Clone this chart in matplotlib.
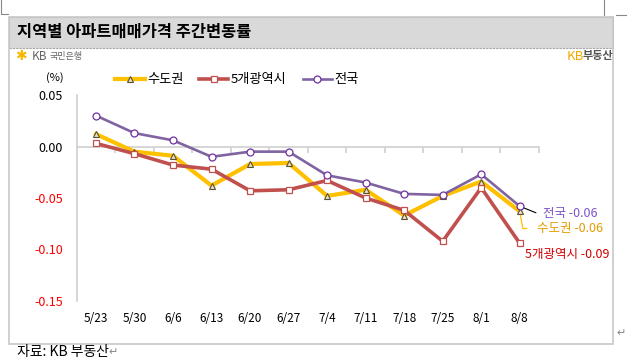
import matplotlib.pyplot as plt
import matplotlib.transforms as mtransforms
from matplotlib.patches import Rectangle
from matplotlib.lines import Line2D

plt.rcParams['font.family'] = ['Noto Sans CJK KR', 'DejaVu Sans']

# 데이터
weeks = ['5/23', '5/30', '6/6', '6/13', '6/20', '6/27', '7/4', '7/11', '7/18', '7/25', '8/1', '8/8']
sudo = [0.012, -0.005, -0.009, -0.038, -0.017, -0.016, -0.048, -0.042, -0.067, -0.048, -0.034, -0.063]
metro5 = [0.003, -0.007, -0.018, -0.022, -0.043, -0.042, -0.033, -0.050, -0.062, -0.092, -0.040, -0.094]
nation = [0.030, 0.013, 0.006, -0.010, -0.005, -0.005, -0.028, -0.035, -0.046, -0.047, -0.027, -0.058]
yticks = [0.05, 0.00, -0.05, -0.10, -0.15]

W, H = 627, 364
fig = plt.figure(figsize=(W / 100, H / 100), dpi=100)

def fx(px):
    return px / W

def fy(py):
    return 1 - py / H

# 바깥 상자와 제목 막대
fig.patches.append(Rectangle((fx(9), fy(344)), fx(613 - 9), (344 - 17) / H, transform=fig.transFigure,
                             facecolor='none', edgecolor='#C8C8C8', lw=1.2, zorder=2))
fig.patches.append(Rectangle((fx(9), fy(48)), fx(613 - 9), (48 - 17) / H, transform=fig.transFigure,
                             facecolor='#D9D9D9', edgecolor='#A6A6A6', lw=0.8, ls=(0, (2, 1)), zorder=1))
fig.text(fx(17), fy(32), '지역별 아파트매매가격 주간변동률', fontsize=11.8, fontweight='bold', va='center')

# 로고
fig.text(fx(15), fy(56), '✱', family=['DejaVu Sans'], color='#F5B800', fontsize=10, va='center')
fig.text(fx(32), fy(56), 'KB', color='#666666', fontsize=8.5, va='center')
fig.text(fx(50), fy(56), '국민은행', color='#666666', fontsize=6.5, va='center')
fig.text(fx(567), fy(56), 'KB', color='#F5A800', fontsize=9.5, va='center')
fig.text(fx(583), fy(56), '부동산', color='#555555', fontsize=8, fontweight='bold', va='center')

# 페이지 모서리 표시
fig.add_artist(Line2D([fx(1), fx(1), fx(8)], [fy(0), fy(14), fy(14)], color='#888888', lw=0.8))
fig.add_artist(Line2D([fx(604), fx(604)], [fy(0), fy(15)], color='#888888', lw=0.8))
fig.add_artist(Line2D([fx(616), fx(627)], [fy(15), fy(15)], color='#888888', lw=0.8))
fig.text(fx(616), fy(333), '↵', family=['DejaVu Sans'], color='#888888', fontsize=8, va='center')
fig.text(fx(17), fy(352), '자료: KB 부동산', fontsize=10, va='center')
fig.text(fx(108), fy(352), '↵', family=['DejaVu Sans'], color='#888888', fontsize=8, va='center')

# 차트
ax = fig.add_axes([fx(76.7), fy(301), fx(539 - 76.7), (301 - 95) / H])
x = range(len(weeks))
ax.plot(x, sudo, color='#FFC000', lw=3, marker='^', ms=5, mfc='#E8E0C0', mec='#5A5030', mew=0.8,
        label='수도권', zorder=3)
ax.plot(x, metro5, color='#C0504D', lw=2.6, marker='s', ms=5, mfc='white', mec='#C0504D', mew=0.9,
        label='5개광역시', zorder=4)
ax.plot(x, nation, color='#8064A2', lw=1.9, marker='o', ms=5, mfc='white', mec='#7030A0', mew=0.9,
        label='전국', zorder=5)

ax.set_xlim(-0.5, len(weeks) - 0.5)
ax.set_ylim(-0.15, 0.05)
ax.set_yticks(yticks)
ax.set_yticklabels(['%.2f' % v for v in yticks], fontsize=9)
for lab, v in zip(ax.get_yticklabels(), yticks):
    lab.set_color('red' if v < 0 else 'black')
ax.tick_params(axis='y', length=0, pad=10)

for s in ['top', 'right']:
    ax.spines[s].set_visible(False)
ax.spines['left'].set_color('#D0D0D0')
ax.spines['left'].set_linewidth(1.2)
ax.spines['bottom'].set_position(('data', 0))
ax.spines['bottom'].set_color('#D0D0D0')
ax.spines['bottom'].set_linewidth(1.2)
ax.set_xticks([i + 0.5 for i in x])
ax.set_xticklabels([])
ax.tick_params(axis='x', length=4, color='#D0D0D0', width=1.2, direction='out')

trans = mtransforms.blended_transform_factory(ax.transData, fig.transFigure)
for i, w in enumerate(weeks):
    ax.text(i, fy(319), w, transform=trans, ha='center', va='center', fontsize=8.5)

fig.text(fx(55), fy(78), '(%)', fontsize=8, ha='center', va='center')

# 끝값 표시
ax.annotate('전국 -0.06', xy=(11, nation[-1]), xytext=(11.6, -0.065), color='#7B52C8', fontsize=9,
            va='center', arrowprops=dict(arrowstyle='-', color='black', lw=0.8, shrinkA=3, shrinkB=3,
                                         connectionstyle='angle,angleA=0,angleB=-22,rad=0'))
ax.annotate('수도권 -0.06', xy=(11, sudo[-1]), xytext=(11.44, -0.0796), color='#E69A00', fontsize=9,
            va='center', arrowprops=dict(arrowstyle='-', color='#FFC000', lw=0.9, shrinkA=5, shrinkB=3,
                                         connectionstyle='angle,angleA=0,angleB=-80,rad=0'))
ax.text(11.13, -0.105, '5개광역시 -0.09', color='#D00000', fontsize=9, va='center', clip_on=False)

fig.legend(loc='center', bbox_to_anchor=(fx(237), fy(80)), ncol=3, frameon=False, fontsize=9.5,
           handlelength=2.2, handletextpad=0.2, columnspacing=1.2)

fig.savefig('out.png', dpi=100)
